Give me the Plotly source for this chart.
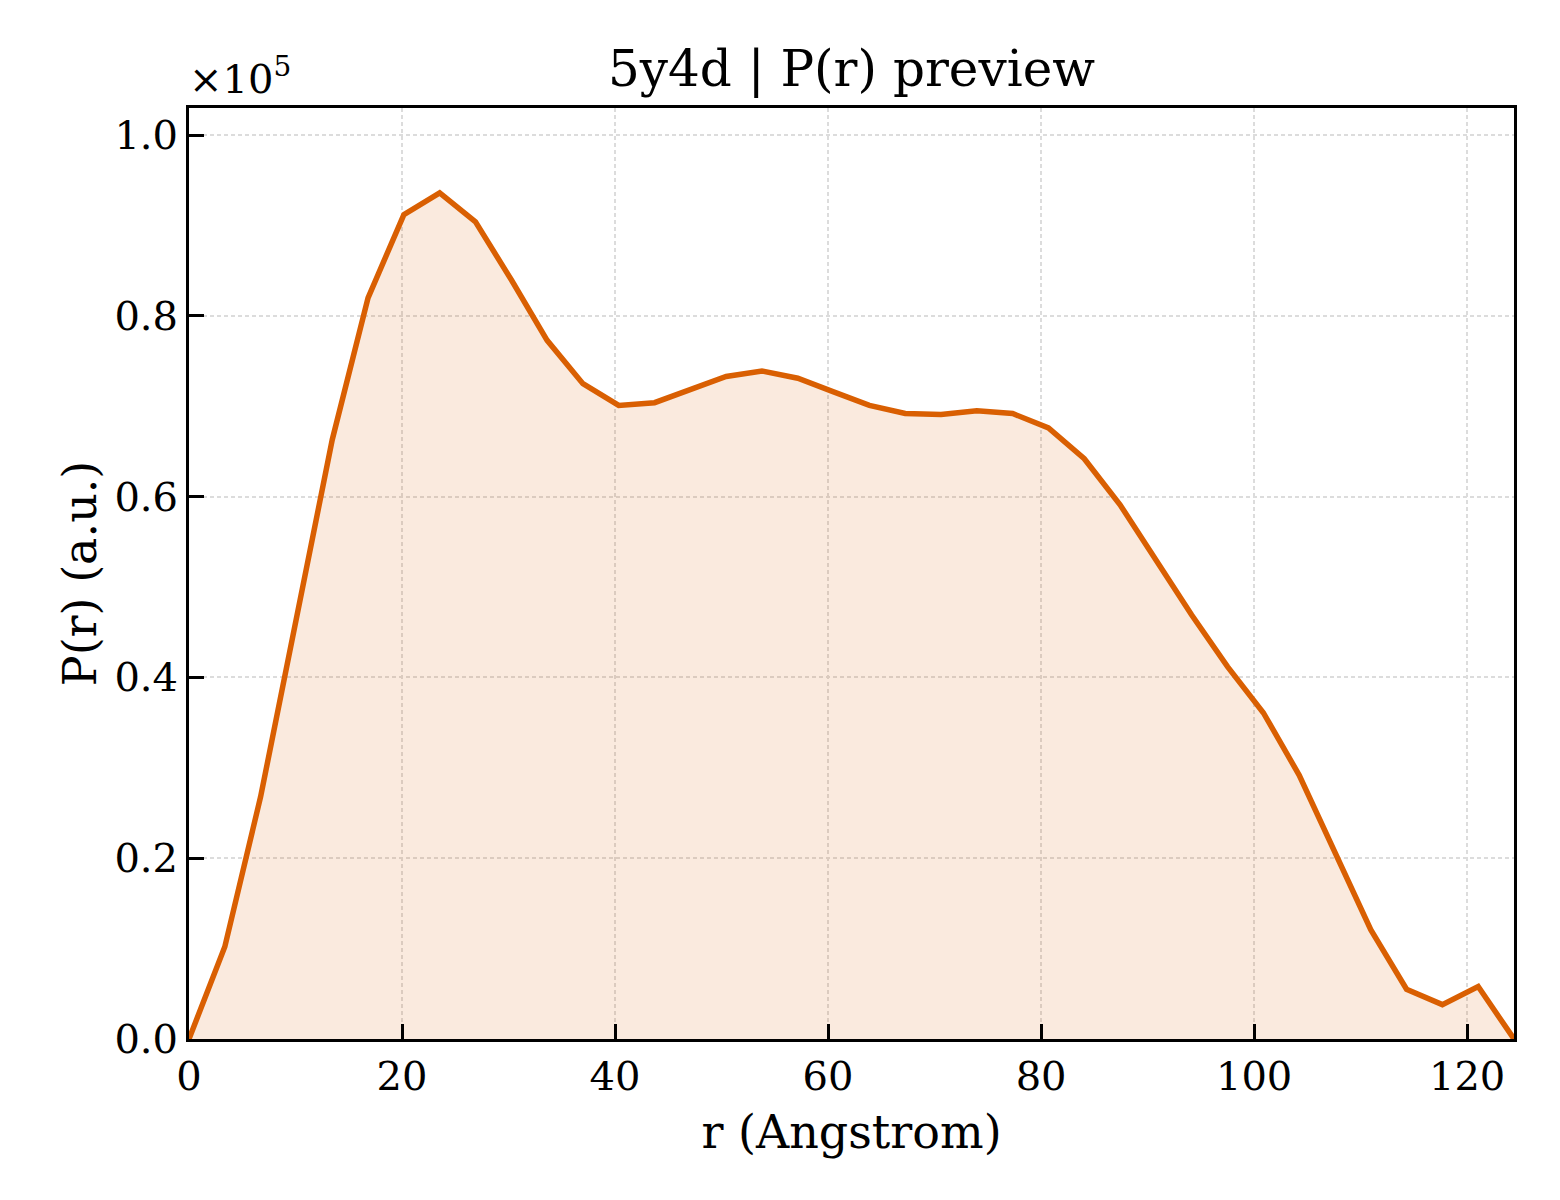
import plotly.graph_objects as go
import numpy as np

# r grid (Angstrom), 38 samples from 0 to Dmax
r_max = 124.4
n_pts = 38
r = np.linspace(0, r_max, n_pts)

# P(r) in units of 1e5
p_r = [0.000, 0.102, 0.268, 0.466, 0.663, 0.820, 0.912, 0.936, 0.904, 0.840,
       0.773, 0.725, 0.701, 0.704, 0.718, 0.733, 0.739, 0.731, 0.716, 0.701,
       0.692, 0.691, 0.695, 0.692, 0.676, 0.642, 0.591, 0.530, 0.469, 0.412,
       0.361, 0.292, 0.206, 0.121, 0.055, 0.038, 0.058, 0.000]

x_ticks = [0, 20, 40, 60, 80, 100, 120]
y_ticks = [0.0, 0.2, 0.4, 0.6, 0.8, 1.0]

line_col = "#D95F02"
font_fam = "DejaVu Serif"

fig = go.Figure()
fig.add_trace(go.Scatter(
    x=r, y=p_r,
    mode="lines",
    line=dict(color=line_col, width=5.5),
    fill="tozeroy",
    fillcolor="rgba(217,95,2,0.13)",
    showlegend=False,
))

axis_common = dict(
    showline=True, linecolor="black", linewidth=3, mirror=True,
    ticks="inside", ticklen=15, tickwidth=3, tickcolor="black",
    showgrid=True, gridcolor="#dcdcdc", gridwidth=1.5, griddash="4px,3px",
    zeroline=False,
    tickfont=dict(family=font_fam, size=40, color="black"),
)

fig.update_xaxes(
    range=[0, r_max], tickvals=x_ticks,
    title=dict(text="r (Angstrom)", font=dict(family=font_fam, size=46, color="black"), standoff=18),
    **axis_common,
)
fig.update_yaxes(
    range=[0, 1.03], tickvals=y_ticks, tickformat=".1f",
    title=dict(text="P(r) (a.u.)", font=dict(family=font_fam, size=46, color="black"), standoff=4),
    **axis_common,
)

fig.add_annotation(
    text="×10<sup>5</sup>", xref="paper", yref="paper", x=0, y=1,
    xanchor="left", yanchor="bottom", xshift=-2, yshift=4, showarrow=False,
    font=dict(family=font_fam, size=40, color="black"),
)

fig.update_layout(
    width=1560, height=1200,
    margin=dict(l=181, r=54, t=100, b=169),
    paper_bgcolor="white", plot_bgcolor="white",
    title=dict(text="5y4d | P(r) preview", x=(181 + (1560 - 54 - 181) / 2) / 1560, xanchor="center",
               y=1 - 60 / 1200, yanchor="middle",
               font=dict(family=font_fam, size=50, color="black")),
)

fig.write_html("out.html")
